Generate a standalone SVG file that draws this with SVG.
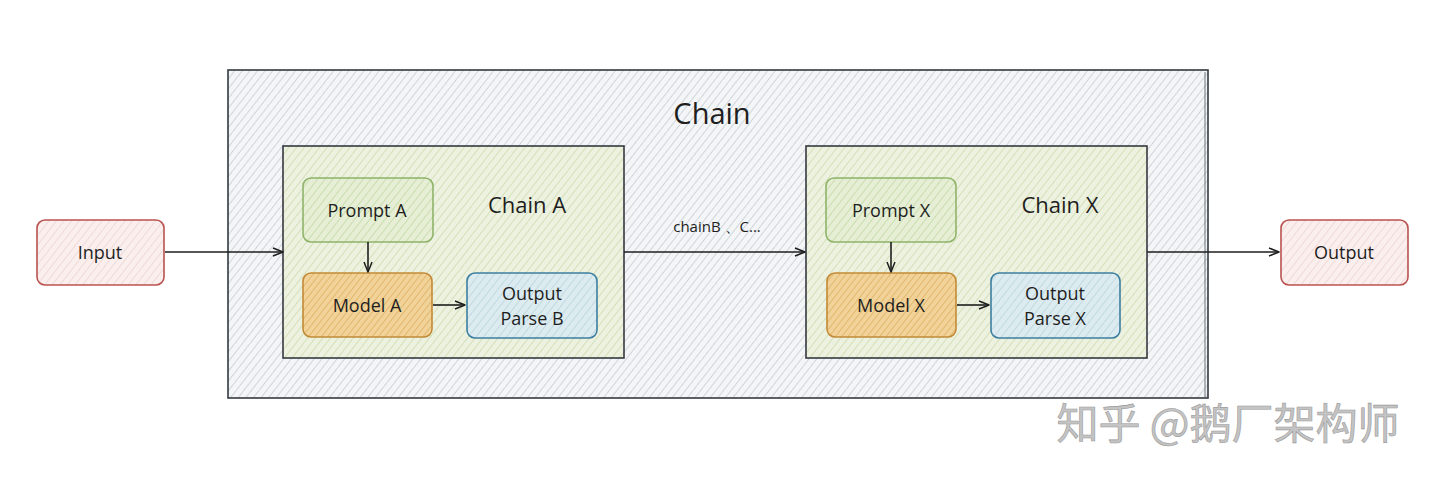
<svg xmlns="http://www.w3.org/2000/svg" width="1440" height="478" viewBox="0 0 1440 478">
<defs>
<pattern id="hOuter" width="6" height="6" patternUnits="userSpaceOnUse" patternTransform="rotate(38)">
<rect width="6" height="6" fill="#f3f5f6"/>
<line x1="0" y1="0" x2="0" y2="6" stroke="#b2bcc3" stroke-width="1.1"/>
</pattern>
<pattern id="hGreen" width="6" height="6" patternUnits="userSpaceOnUse" patternTransform="rotate(38)">
<rect width="6" height="6" fill="#edf2e0"/>
<line x1="0" y1="0" x2="0" y2="6" stroke="#c4d29e" stroke-width="1.2"/>
</pattern>
<pattern id="hPrompt" width="6" height="6" patternUnits="userSpaceOnUse" patternTransform="rotate(38)">
<rect width="6" height="6" fill="#e6efd5"/>
<line x1="0" y1="0" x2="0" y2="6" stroke="#b8cf96" stroke-width="1.2"/>
</pattern>
<pattern id="hOrange" width="5" height="5" patternUnits="userSpaceOnUse" patternTransform="rotate(38)">
<rect width="5" height="5" fill="#f1d39a"/>
<line x1="0" y1="0" x2="0" y2="5" stroke="#d9a44e" stroke-width="1.2"/>
</pattern>
<pattern id="hBlue" width="6" height="6" patternUnits="userSpaceOnUse" patternTransform="rotate(38)">
<rect width="6" height="6" fill="#dcebef"/>
<line x1="0" y1="0" x2="0" y2="6" stroke="#afcdd8" stroke-width="1.2"/>
</pattern>
<pattern id="hRed" width="6" height="6" patternUnits="userSpaceOnUse" patternTransform="rotate(38)">
<rect width="6" height="6" fill="#fbefee"/>
<line x1="0" y1="0" x2="0" y2="6" stroke="#e3cac8" stroke-width="1.1"/>
</pattern>
<marker id="arr" markerWidth="12" markerHeight="10" refX="11" refY="5" orient="auto" markerUnits="userSpaceOnUse">
<path d="M1,1 L11,5 L1,9" fill="none" stroke="#1e1e1e" stroke-width="1.5" stroke-linejoin="round"/>
</marker>
</defs>
<style>
text{font-family:"Open Sans","Liberation Sans",sans-serif;fill:#1e1e1e;text-anchor:middle;dominant-baseline:central}
.lbl{font-size:18px}
.big{font-size:22px}
.title{font-size:29px}
.conn{stroke:#1e1e1e;stroke-width:1.6;fill:none}
.chain{stroke:#343a40;stroke-width:1.6}
</style>
<rect width="1440" height="478" fill="#ffffff"/>
<g id="chain-outer">
<rect x="228" y="70" width="980" height="328" fill="url(#hOuter)" stroke="#343a40" stroke-width="1.6"/>
<line x1="1205" y1="72" x2="1205" y2="397" stroke="#6c757d" stroke-width="1"/>
<text class="title" x="712" y="112">Chain</text>
</g>
<g id="chain-a">
<rect x="283" y="146" width="341" height="212" fill="url(#hGreen)" class="chain"/>
<text class="big" x="527" y="204">Chain A</text>
</g>
<g id="chain-x">
<rect x="806" y="146" width="341" height="212" fill="url(#hGreen)" class="chain"/>
<text class="big" x="1060" y="204">Chain X</text>
</g>
<g id="input">
<rect x="37" y="220" width="127" height="65" rx="8" fill="url(#hRed)" stroke="#b9534f" stroke-width="1.6"/>
<text class="lbl" x="100" y="252">Input</text>
</g>
<g id="output">
<rect x="1281" y="220" width="127" height="65" rx="8" fill="url(#hRed)" stroke="#b9534f" stroke-width="1.6"/>
<text class="lbl" x="1344" y="252">Output</text>
</g>
<g id="prompt-a">
<rect x="303" y="178" width="130" height="64" rx="8" fill="url(#hPrompt)" stroke="#8fb36a" stroke-width="1.6"/>
<text class="lbl" x="367" y="210">Prompt A</text>
</g>
<g id="model-a">
<rect x="303" y="273" width="129" height="64" rx="8" fill="url(#hOrange)" stroke="#c28a36" stroke-width="1.6"/>
<text class="lbl" x="367" y="305">Model A</text>
</g>
<g id="parse-b">
<rect x="467" y="273" width="130" height="65" rx="8" fill="url(#hBlue)" stroke="#3d7fa0" stroke-width="1.6"/>
<text class="lbl" x="532" y="293">Output</text>
<text class="lbl" x="532" y="318">Parse B</text>
</g>
<g id="prompt-x">
<rect x="826" y="178" width="130" height="64" rx="8" fill="url(#hPrompt)" stroke="#8fb36a" stroke-width="1.6"/>
<text class="lbl" x="891" y="210">Prompt X</text>
</g>
<g id="model-x">
<rect x="827" y="273" width="129" height="64" rx="8" fill="url(#hOrange)" stroke="#c28a36" stroke-width="1.6"/>
<text class="lbl" x="891" y="305">Model X</text>
</g>
<g id="parse-x">
<rect x="991" y="273" width="129" height="65" rx="8" fill="url(#hBlue)" stroke="#3d7fa0" stroke-width="1.6"/>
<text class="lbl" x="1055" y="293">Output</text>
<text class="lbl" x="1055" y="318">Parse X</text>
</g>
<g id="connectors">
<line class="conn" x1="165" y1="252" x2="283" y2="252" marker-end="url(#arr)"/>
<line class="conn" x1="624" y1="252" x2="805" y2="252" marker-end="url(#arr)"/>
<line class="conn" x1="1147" y1="252" x2="1279" y2="252" marker-end="url(#arr)"/>
<line class="conn" x1="368" y1="242" x2="368" y2="272" marker-end="url(#arr)"/>
<line class="conn" x1="433" y1="305" x2="465" y2="305" marker-end="url(#arr)"/>
<line class="conn" x1="891" y1="242" x2="891" y2="272" marker-end="url(#arr)"/>
<line class="conn" x1="957" y1="305" x2="989" y2="305" marker-end="url(#arr)"/>
<text style="font-size:15px" x="717" y="226">chainB 、C...</text>
</g>
<g id="watermark">
<text x="1228" y="420" style="font-family:'Noto Sans CJK SC',sans-serif;font-size:42px;fill:#c4c4c4;stroke:#9a9a9a;stroke-width:0.6">知乎 @鹅厂架构师</text>
</g>
</svg>
